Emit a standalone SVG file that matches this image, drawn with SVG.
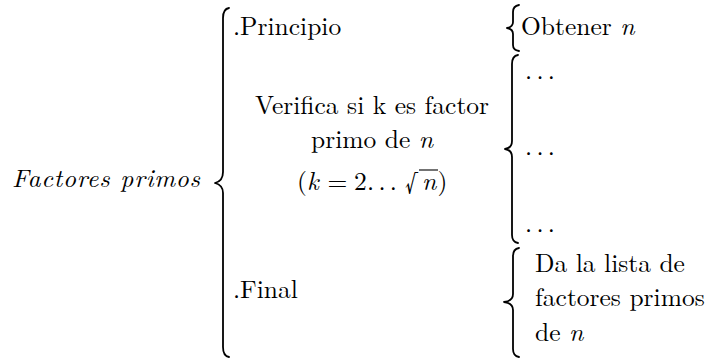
<svg xmlns="http://www.w3.org/2000/svg" width="711" height="358" viewBox="0 0 711 358" font-family="'Latin Modern Roman','Liberation Serif',serif">
<style>
text{font-family:'Latin Modern Roman','Liberation Serif',serif;font-size:25.5px;fill:#000}
.it{font-style:italic}
.brace{fill:none;stroke:#000;stroke-width:1.8;stroke-linecap:round;stroke-linejoin:round}
.mid{text-anchor:middle}
.dots{letter-spacing:4.3px}
</style>
<rect width="711" height="358" fill="#fff"/>
<g id="root">
<text x="12" y="187" class="it" textLength="188" lengthAdjust="spacing">Factores primos</text>
</g>
<g id="connectors">
<path class="brace" d="M229 8 Q223 9 223 18 L223 172 Q223 181 215 183 Q223 185 223 193 L223 347 Q223 356 229 357"/>
<path class="brace" d="M519 5 Q513 6 513 12 L513 22 Q513 27 507 28 Q513 29 513 34 L513 45 Q513 50 519 51"/>
<path class="brace" d="M518 55 Q512 56 512 64 L512 141 Q512 148 505 149 Q512 150 512 157 L512 235 Q512 242 518 243"/>
<path class="brace" d="M519 248 Q513 249 513 256 L513 294 Q513 301 504 302 Q513 303 513 310 L513 349 Q513 356 519 357"/>
</g>
<g id="principio">
<text x="233" y="35">.Principio</text>
</g>
<g id="verifica">
<text x="372" y="114" class="mid">Verifica si k es factor</text>
<text x="372" y="148" class="mid">primo de <tspan class="it">n</tspan></text>
<text x="297" y="190">(</text>
<text x="307" y="190" class="it">k</text>
<text x="327.5" y="190">=</text>
<text x="354" y="190">2</text>
<text x="367" y="190" class="dots">...</text>
<text x="405" y="191">√</text>
<line x1="419" y1="170" x2="438" y2="170" stroke="#000" stroke-width="1.1"/>
<text x="422" y="190" class="it">n</text>
<text x="437.5" y="190">)</text>
</g>
<g id="final">
<text x="233" y="298">.Final</text>
</g>
<g id="obtener">
<text x="521" y="35">Obtener <tspan class="it">n</tspan></text>
</g>
<g id="pasos">
<text x="525" y="79" class="dots">...</text>
<text x="525" y="155" class="dots">...</text>
<text x="525" y="232" class="dots">...</text>
</g>
<g id="lista">
<text x="535" y="272">Da la lista de</text>
<text x="535" y="306">factores primos</text>
<text x="535" y="341">de <tspan class="it">n</tspan></text>
</g>
</svg>
